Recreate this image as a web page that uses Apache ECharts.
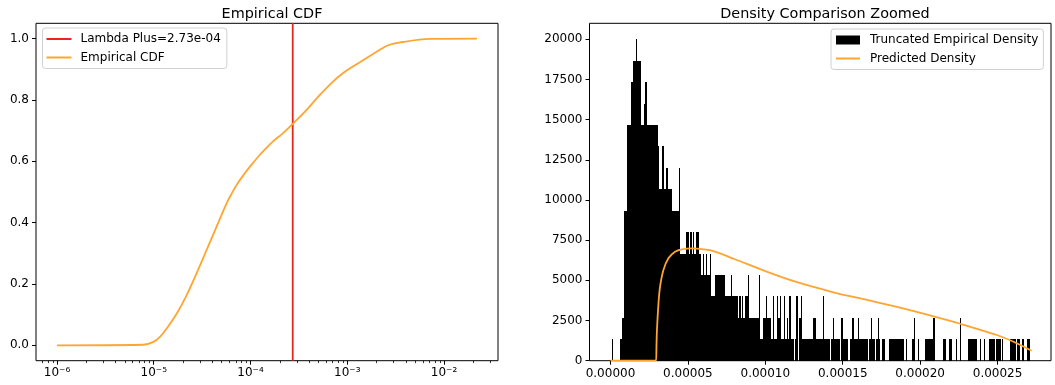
<!DOCTYPE html>
<html>
<head>
<meta charset="utf-8">
<script src="https://cdn.jsdelivr.net/npm/echarts@6/dist/echarts.min.js"></script>
<style>
  html, body { margin: 0; padding: 0; background: #fff; }
  #main { width: 1055px; height: 385px; }
</style>
</head>
<body>
<div id="main"></div>
<script>
// values
var LAMBDA_PLUS = 2.73e-4;

// empirical CDF (log x)
var cdfX = [1e-6, 7.8e-6, 1e-5, 1.16e-5, 1.36e-5, 1.73e-5, 2.19e-5, 2.77e-5, 3.52e-5, 4.46e-5,
  5.66e-5, 6.37e-5, 7.18e-5, 8.4e-5, 1e-4, 1.2e-4, 1.45e-4, 1.71e-4, 2.17e-4, 2.73e-4,
  3.78e-4, 5.18e-4, 7.12e-4, 9.0e-4, 1.14e-3, 1.57e-3, 2.15e-3, 2.73e-3, 3.75e-3, 5.57e-3,
  7.64e-3, 2.19e-2];
var cdfY = [0, 0.002, 0.012, 0.028, 0.055, 0.104, 0.164, 0.235, 0.311, 0.387,
  0.463, 0.494, 0.523, 0.554, 0.585, 0.615, 0.643, 0.665, 0.692, 0.722,
  0.767, 0.816, 0.860, 0.887, 0.909, 0.936, 0.963, 0.980, 0.989, 0.997,
  0.999, 1.0];

// histogram: 300 bins from 0, heights in counts of one density step
var BIN_WIDTH = 9.03e-7;
var DENSITY_STEP = 20000 / 15;
var binCounts = [
  0,1,0,0,0,0,0,1,2,2,  7,7,11,11,11,13,14,14,15,14,
  14,14,11,11,12,13,11,11,11,11,  11,11,11,11,10,8,8,10,8,8,
  9,8,8,8,7,7,7,7,7,9,  5,5,5,5,6,6,5,6,5,6,
  5,6,6,5,5,4,5,4,5,4,  4,5,3,3,3,4,4,4,4,4,
  4,4,3,3,3,3,4,3,3,3,  3,2,3,2,3,2,3,3,4,2,
  2,2,2,2,2,2,4,1,1,2,  2,3,2,2,2,1,3,1,1,3,
  2,3,1,1,3,1,2,1,3,1,  1,0,1,3,0,2,3,1,1,1,
  1,1,1,1,1,2,2,1,1,1,  1,1,3,1,1,1,1,0,1,2,
  1,1,1,1,0,2,1,1,1,1,  0,1,1,2,1,1,1,2,1,1,
  1,1,1,1,0,1,2,1,1,0,  1,2,1,0,1,1,0,0,0,1,
  1,1,1,1,1,1,1,1,1,1,  0,1,0,0,0,0,1,2,0,0,
  1,0,0,0,0,1,1,1,1,1,  1,2,0,0,0,0,0,0,1,1,
  0,0,1,1,0,0,0,1,0,0,  2,0,0,0,0,0,1,1,1,1,
  1,1,0,0,1,0,0,1,0,0,  0,1,1,1,1,0,1,1,1,0,
  1,0,0,0,0,0,1,1,1,1,  0,1,1,0,1,1,0,0,1,1
];

// predicted density
var predX = [0, 2.94e-5, 2.97e-5, 3.0e-5, 3.1e-5, 3.2e-5, 3.42e-5, 3.74e-5, 4.17e-5, 4.6e-5,
  5.3e-5, 6.0e-5, 6.6e-5, 8.0e-5, 1.0e-4, 1.2e-4, 1.44e-4, 1.656e-4, 1.87e-4, 2.086e-4,
  2.258e-4, 2.495e-4, 2.603e-4, 2.72e-4];
var predY = [0, 0, 900, 1900, 3570, 4600, 5640, 6370, 6780, 6930,
  6990, 6930, 6830, 6330, 5580, 4900, 4260, 3780, 3300, 2760,
  2300, 1600, 1180, 620];

var FONT = 'DejaVu Sans';
var SUP = { '-': '\u207B', '0': '\u2070', '1': '\u00B9', '2': '\u00B2', '3': '\u00B3', '4': '\u2074',
  '5': '\u2075', '6': '\u2076', '7': '\u2077', '8': '\u2078', '9': '\u2079' };

function powLabel(v) {
  var e = String(Math.round(Math.log10(v)));
  var s = '';
  for (var i = 0; i < e.length; i++) s += SUP[e[i]];
  return '10' + s;
}
function sci(v) {
  // 2.73e-4 -> 2.73e-04
  var p = v.toExponential(2).split('e');
  var n = Math.abs(parseInt(p[1], 10));
  return p[0] + 'e' + (p[1][0] === '-' ? '-' : '+') + (n < 10 ? '0' : '') + n;
}

var lambdaName = 'Lambda Plus=' + sci(LAMBDA_PLUS);

var cdfData = cdfX.map(function (x, i) { return [x, cdfY[i]]; });
var predData = predX.map(function (x, i) { return [x, predY[i]]; });
var histData = [];
binCounts.forEach(function (c, i) {
  if (c > 0) histData.push([i * BIN_WIDTH, (i + 1) * BIN_WIDTH, c * DENSITY_STEP]);
});

// log axis minor ticks (2..9 x 10^k)
var minorTicks = [];
for (var k = -7; k <= -2; k++) {
  for (var m = 2; m <= 9; m++) {
    var v = m * Math.pow(10, k);
    if (v > 6.07e-7 && v < 0.0361) minorTicks.push([v, -0.05]);
  }
}

var labelStyle = { color: '#000', fontSize: 12, fontFamily: FONT };
var tickStyle = { show: true, inside: false, length: 4, lineStyle: { color: '#000', width: 1 } };
var hideLine = { show: false, onZero: false };
var noSymbol = { opacity: 0 };

var myChart = echarts.init(document.getElementById('main'));
myChart.setOption({
  animation: false,
  backgroundColor: '#fff',
  title: [
    { text: 'Empirical CDF', left: 267, top: 2, textAlign: 'center',
      textStyle: { fontSize: 14.4, fontWeight: 'normal', color: '#000', fontFamily: FONT } },
    { text: 'Density Comparison Zoomed', left: 820, top: 2, textAlign: 'center',
      textStyle: { fontSize: 14.4, fontWeight: 'normal', color: '#000', fontFamily: FONT } }
  ],
  legend: [
    {
      data: [{ name: lambdaName, itemStyle: noSymbol }, { name: 'Empirical CDF', itemStyle: noSymbol }],
      left: 42.5, top: 28, orient: 'vertical',
      itemWidth: 25, itemHeight: 10, itemGap: 6.5,
      padding: [5, 6, 5, 3],
      backgroundColor: 'rgba(255,255,255,0.8)', borderColor: '#d0d0d0', borderWidth: 1, borderRadius: 3,
      textStyle: { color: '#000', fontSize: 12, fontFamily: FONT, padding: [0, 0, 0, 4] }
    },
    {
      data: [{ name: 'Truncated Empirical Density', icon: 'rect' },
        { name: 'Predicted Density', itemStyle: noSymbol }],
      left: 831, top: 29, orient: 'vertical',
      itemWidth: 24, itemHeight: 9, itemGap: 6.5,
      padding: [5, 5, 5, 4],
      backgroundColor: 'rgba(255,255,255,0.8)', borderColor: '#d0d0d0', borderWidth: 1, borderRadius: 3,
      textStyle: { color: '#000', fontSize: 12, fontFamily: FONT, padding: [0, 0, 0, 5] }
    }
  ],
  grid: [
    { left: 36, top: 23.3, width: 462, height: 337.4, show: true, borderColor: '#000', borderWidth: 1 },
    { left: 589.5, top: 23.3, width: 461.5, height: 337.4, show: true, borderColor: '#000', borderWidth: 1 }
  ],
  xAxis: [
    { type: 'log', logBase: 10, gridIndex: 0, min: 6.07e-7, max: 0.0361,
      axisLine: hideLine, axisTick: tickStyle, splitLine: { show: false },
      axisLabel: Object.assign({ formatter: powLabel, showMinLabel: false, showMaxLabel: false, margin: 6 }, labelStyle) },
    { type: 'value', gridIndex: 1, min: -1.355e-5, max: 2.845e-4, splitNumber: 5,
      minInterval: 5e-5, maxInterval: 5e-5,
      axisLine: hideLine, axisTick: tickStyle, splitLine: { show: false },
      axisLabel: Object.assign({ formatter: function (v) { return v.toFixed(5); },
        showMinLabel: false, showMaxLabel: false, margin: 7 }, labelStyle) }
  ],
  yAxis: [
    { type: 'value', gridIndex: 0, min: -0.05, max: 1.05, splitNumber: 5,
      minInterval: 0.2, maxInterval: 0.2,
      axisLine: hideLine, axisTick: tickStyle, splitLine: { show: false },
      axisLabel: Object.assign({ formatter: function (v) { return v.toFixed(1); },
        showMinLabel: false, showMaxLabel: false, margin: 7 }, labelStyle) },
    { type: 'value', gridIndex: 1, min: 0, max: 21000, interval: 2500,
      axisLine: hideLine, axisTick: tickStyle, splitLine: { show: false },
      axisLabel: Object.assign({ formatter: function (v) { return String(v); },
        showMaxLabel: false, margin: 7 }, labelStyle) }
  ],
  series: [
    {
      name: lambdaName, type: 'line', xAxisIndex: 0, yAxisIndex: 0,
      data: [[LAMBDA_PLUS, -0.05], [LAMBDA_PLUS, 1.05]],
      symbol: 'none', color: '#e8251f', lineStyle: { width: 1.8, color: '#e8251f' }
    },
    {
      name: 'Empirical CDF', type: 'line', xAxisIndex: 0, yAxisIndex: 0,
      data: cdfData, smooth: 0.4,
      symbol: 'none', color: '#ffa530', lineStyle: { width: 1.8, color: '#ffa530' }
    },
    {
      name: 'minor', type: 'custom', xAxisIndex: 0, yAxisIndex: 0, silent: true, clip: false,
      data: minorTicks,
      renderItem: function (params, api) {
        var p = api.coord([api.value(0), api.value(1)]);
        var x = Math.round(p[0]) + 0.5;
        return { type: 'line', shape: { x1: x, y1: p[1], x2: x, y2: p[1] + 2.4 },
          style: { stroke: '#000', lineWidth: 0.8 } };
      }
    },
    {
      name: 'Truncated Empirical Density', type: 'custom', xAxisIndex: 1, yAxisIndex: 1,
      data: histData, encode: { x: [0, 1], y: 2 },
      itemStyle: { color: '#000' }, color: '#000',
      renderItem: function (params, api) {
        // snapped to whole pixels so neighbouring bins join without seams
        var a = api.coord([api.value(0), api.value(2)]);
        var b = api.coord([api.value(1), 0]);
        var x0 = Math.round(a[0]), x1 = Math.max(Math.round(b[0]), x0 + 1);
        var y0 = Math.round(a[1]), y1 = Math.round(b[1]);
        return { type: 'rect',
          shape: { x: x0, y: y0, width: x1 - x0, height: y1 - y0 },
          style: { fill: '#000' } };
      }
    },
    {
      name: 'Predicted Density', type: 'line', xAxisIndex: 1, yAxisIndex: 1,
      data: predData, smooth: 0.3, z: 5,
      symbol: 'none', color: '#ffa530', lineStyle: { width: 1.8, color: '#ffa530' }
    }
  ]
});
</script>
</body>
</html>
